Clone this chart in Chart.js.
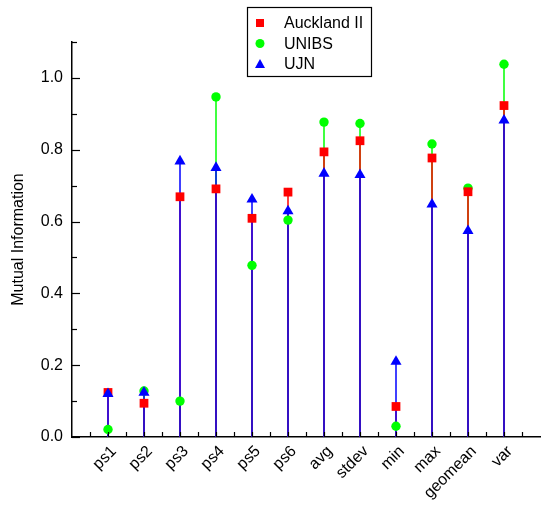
<!DOCTYPE html>
<html>
<head>
<meta charset="utf-8">
<script src="https://cdn.jsdelivr.net/npm/chart.js@4"></script>
<style>
  html, body { margin: 0; padding: 0; background: #fff; }
  #wrap { width: 542px; height: 507px; }
</style>
</head>
<body>
<div id="wrap"><canvas id="chart" width="542" height="507"></canvas></div>
<script>
// Features and mutual information values per dataset
const features = ['ps1', 'ps2', 'ps3', 'ps4', 'ps5', 'ps6', 'avg', 'stdev', 'min', 'max', 'geomean', 'var'];
const aucklandII = [0.124, 0.094, 0.669, 0.691, 0.609, 0.682, 0.794, 0.825, 0.085, 0.777, 0.683, 0.923];
const unibs = [0.021, 0.128, 0.100, 0.947, 0.478, 0.604, 0.877, 0.873, 0.030, 0.816, 0.693, 1.038];
const ujn = [0.120, 0.124, 0.768, 0.750, 0.662, 0.629, 0.734, 0.730, 0.210, 0.648, 0.574, 0.882];
const yTicks = [0, 0.2, 0.4, 0.6, 0.8, 1.0];

const FONT = 'Arial, "Liberation Sans", sans-serif';

function toPoints(values) {
    return values.map((v, i) => ({ x: i, y: v }));
}

// Stems from zero to each point, drawn under the markers
const stemPlugin = {
    id: 'stems',
    beforeDatasetsDraw(chart) {
        const ctx = chart.ctx;
        const xs = chart.scales.x, ys = chart.scales.y;
        const order = [1, 0, 2]; // green first, then red, then blue on top
        ctx.save();
        ctx.lineWidth = 1.5;
        order.forEach(di => {
            const ds = chart.data.datasets[di];
            ctx.strokeStyle = ds.borderColor;
            ds.data.forEach(p => {
                const x = xs.getPixelForValue(p.x);
                ctx.beginPath();
                ctx.moveTo(x, ys.getPixelForValue(0));
                ctx.lineTo(x, ys.getPixelForValue(p.y));
                ctx.stroke();
            });
        });
        ctx.restore();
    }
};

// Inward tick marks on both axes
const tickPlugin = {
    id: 'innerTicks',
    afterDraw(chart) {
        const ctx = chart.ctx;
        const xs = chart.scales.x, ys = chart.scales.y;
        const area = chart.chartArea;
        ctx.save();
        ctx.strokeStyle = '#000';
        ctx.lineWidth = 1.2;
        for (let k = 0; k <= 11; k++) {
            const v = k / 10;
            const y = Math.round(ys.getPixelForValue(v)) + 0.5;
            const len = k % 2 === 0 ? 8 : 5;
            ctx.beginPath();
            ctx.moveTo(area.left, y);
            ctx.lineTo(area.left + len, y);
            ctx.stroke();
        }
        for (let k = -1; k <= 23; k++) {
            const x = Math.round(xs.getPixelForValue(k / 2)) + 0.5;
            ctx.beginPath();
            ctx.moveTo(x, area.bottom);
            ctx.lineTo(x, area.bottom - 5);
            ctx.stroke();
        }
        ctx.restore();
    }
};

// Boxed legend in the top area
const legendPlugin = {
    id: 'boxLegend',
    afterDraw(chart) {
        const ctx = chart.ctx;
        const left = 247.5, top = 7.5, w = 124, h = 69;
        ctx.save();
        ctx.fillStyle = '#fff';
        ctx.fillRect(left, top, w, h);
        ctx.strokeStyle = '#000';
        ctx.lineWidth = 1.2;
        ctx.strokeRect(left, top, w, h);
        ctx.font = '16px ' + FONT;
        ctx.textBaseline = 'middle';
        chart.data.datasets.forEach((ds, i) => {
            const cy = 23 + i * 20.5;
            const cx = 260;
            ctx.fillStyle = ds.backgroundColor;
            ctx.beginPath();
            if (ds.pointStyle === 'rect') {
                ctx.rect(cx - 4, cy - 4, 8, 8);
            } else if (ds.pointStyle === 'circle') {
                ctx.arc(cx, cy, 4.5, 0, Math.PI * 2);
            } else {
                ctx.moveTo(cx, cy - 5);
                ctx.lineTo(cx + 5, cy + 4);
                ctx.lineTo(cx - 5, cy + 4);
                ctx.closePath();
            }
            ctx.fill();
            ctx.fillStyle = '#000';
            ctx.fillText(ds.label, 284, cy + 1);
        });
        ctx.restore();
    }
};

new Chart(document.getElementById('chart'), {
    type: 'scatter',
    data: {
        datasets: [
            {
                label: 'Auckland II',
                data: toPoints(aucklandII),
                backgroundColor: '#ff0000',
                borderColor: '#ff0000',
                pointStyle: 'rect',
                pointRadius: 6.2,
                borderWidth: 0,
                order: 1
            },
            {
                label: 'UNIBS',
                data: toPoints(unibs),
                backgroundColor: '#00ff00',
                borderColor: '#00ff00',
                pointStyle: 'circle',
                pointRadius: 4.7,
                borderWidth: 0,
                order: 2
            },
            {
                label: 'UJN',
                data: toPoints(ujn),
                backgroundColor: '#0000ff',
                borderColor: '#0000ff',
                pointStyle: 'triangle',
                pointRadius: 6.4,
                borderWidth: 0,
                order: 0
            }
        ]
    },
    options: {
        responsive: false,
        animation: false,
        layout: { autoPadding: false, padding: { top: 42, right: 2, left: 0, bottom: 0 } },
        plugins: {
            legend: { display: false },
            tooltip: { enabled: false }
        },
        scales: {
            x: {
                type: 'linear',
                min: -1,
                max: 12,
                afterBuildTicks(scale) {
                    scale.ticks = features.map((f, i) => ({ value: i }));
                },
                afterFit(scale) {
                    scale.height = 70;
                    scale.paddingLeft = 0;
                    scale.paddingRight = 0;
                },
                grid: { display: true, drawOnChartArea: false, drawTicks: false },
                border: { display: true, color: '#000', width: 1.5 },
                ticks: {
                    autoSkip: false,
                    maxRotation: 45,
                    minRotation: 45,
                    padding: 5,
                    labelOffset: 6,
                    color: '#000',
                    font: { family: FONT, size: 16 },
                    callback: v => features[v] !== undefined ? features[v] : ''
                }
            },
            y: {
                min: 0,
                max: 1.1,
                afterBuildTicks(scale) {
                    scale.ticks = yTicks.map(v => ({ value: v }));
                },
                afterFit(scale) { scale.width = 72; },
                grid: { display: true, drawOnChartArea: false, drawTicks: false },
                border: { display: true, color: '#000', width: 1.5 },
                title: {
                    display: true,
                    text: 'Mutual Information',
                    color: '#000',
                    font: { family: FONT, size: 16 },
                    padding: { top: 9, bottom: 0 }
                },
                ticks: {
                    padding: 9,
                    color: '#000',
                    font: { family: FONT, size: 16 },
                    callback: v => v.toFixed(1)
                }
            }
        }
    },
    plugins: [stemPlugin, tickPlugin, legendPlugin]
});
</script>
</body>
</html>
